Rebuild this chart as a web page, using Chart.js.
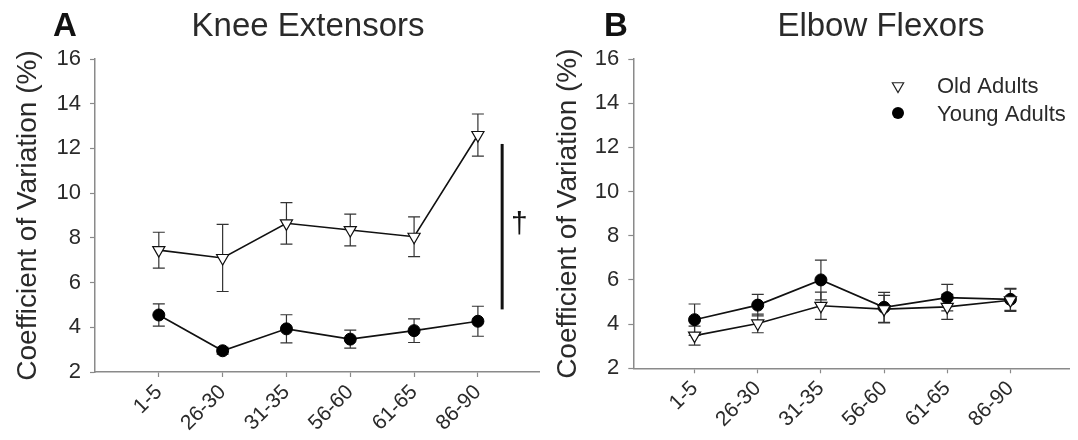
<!DOCTYPE html>
<html>
<head>
<meta charset="utf-8">
<script src="https://cdn.jsdelivr.net/npm/chart.js@4.4.0/dist/chart.umd.min.js"></script>
<style>
  html, body { margin: 0; padding: 0; background: #fff; }
  #wrap { position: relative; width: 1078px; height: 440px; overflow: hidden; }
  .panel { position: absolute; top: 0; height: 440px; }
  #panelA { left: 0; width: 548px; }
  #panelB { left: 548px; width: 530px; }
</style>
</head>
<body>
<div id="wrap">
  <div class="panel" id="panelA"><canvas id="chartA"></canvas></div>
  <div class="panel" id="panelB"><canvas id="chartB"></canvas></div>
</div>
<script>
// ---- data (mean CV % and SE per age group) ----
const ageGroups = ['1-5', '26-30', '31-35', '56-60', '61-65', '86-90'];
const yTickValues = [2, 4, 6, 8, 10, 12, 14, 16];

const kneeOld     = [7.45, 7.10, 8.65, 8.35, 8.05, 12.60];
const kneeOldSE   = [0.80, 1.50, 0.93, 0.71, 0.89, 0.94];
const kneeYoung   = [4.55, 2.95, 3.93, 3.47, 3.85, 4.27];
const kneeYoungSE = [0.50, 0.15, 0.63, 0.40, 0.53, 0.67];

const elbowOld     = [3.48, 4.03, 4.83, 4.68, 4.78, 5.08];
const elbowOldSE   = [0.43, 0.42, 0.62, 0.62, 0.57, 0.50];
const elbowYoung   = [4.20, 4.86, 6.00, 4.76, 5.20, 5.12];
const elbowYoungSE = [0.71, 0.49, 0.90, 0.68, 0.60, 0.50];

// significance bracket in panel A (y range in data units)
const kneeSigRange = [4.8, 12.2];

const FONT = "'Liberation Sans', Arial, Helvetica, sans-serif";
const TEXT = '#2a2a2a';
const AXIS = '#8a8a8a';
Chart.defaults.font.family = FONT;

const toPoints = vals => vals.map((v, i) => ({ x: i, y: v }));

// error bars drawn under the markers
const errorBars = {
  id: 'errorBars',
  beforeDatasetsDraw(chart) {
    const { ctx, scales: { x, y } } = chart;
    ctx.save();
    ctx.strokeStyle = '#333';
    ctx.lineWidth = 1.2;
    chart.data.datasets.forEach(ds => {
      ds.data.forEach((p, i) => {
        const se = ds.err[i];
        const px = x.getPixelForValue(p.x);
        const top = y.getPixelForValue(p.y + se);
        const bot = y.getPixelForValue(p.y - se);
        ctx.beginPath();
        ctx.moveTo(px, top); ctx.lineTo(px, bot);
        ctx.moveTo(px - 6, top); ctx.lineTo(px + 6, top);
        ctx.moveTo(px - 6, bot); ctx.lineTo(px + 6, bot);
        ctx.stroke();
      });
    });
    ctx.restore();
  }
};

function headingPlugin(letter, letterX, title, titleX) {
  return {
    id: 'heading',
    afterDraw(chart) {
      const ctx = chart.ctx;
      ctx.save();
      ctx.fillStyle = '#111';
      ctx.textAlign = 'center';
      ctx.textBaseline = 'alphabetic';
      ctx.font = `bold 33px ${FONT}`;
      ctx.fillText(letter, letterX, 36);
      ctx.fillStyle = TEXT;
      ctx.font = `33px ${FONT}`;
      ctx.fillText(title, titleX, 36);
      ctx.restore();
    }
  };
}

// vertical bar with dagger between the two knee series
const sigBracket = {
  id: 'sigBracket',
  afterDatasetsDraw(chart) {
    const { ctx, scales: { x, y } } = chart;
    const px = x.getPixelForValue(5.38);
    ctx.save();
    ctx.strokeStyle = '#111';
    ctx.lineWidth = 3;
    ctx.beginPath();
    ctx.moveTo(px, y.getPixelForValue(kneeSigRange[1]));
    ctx.lineTo(px, y.getPixelForValue(kneeSigRange[0]));
    ctx.stroke();
    ctx.fillStyle = '#111';
    ctx.font = `30px ${FONT}`;
    ctx.textAlign = 'center';
    ctx.textBaseline = 'middle';
    ctx.fillText('\u2020', x.getPixelForValue(5.65), y.getPixelForValue(8.6));
    ctx.restore();
  }
};

// legend inside panel B
const insideLegend = {
  id: 'insideLegend',
  afterDraw(chart) {
    const ctx = chart.ctx;
    const mx = 350, tx = 389;
    ctx.save();
    // triangle (Old Adults)
    ctx.strokeStyle = '#222';
    ctx.fillStyle = '#fff';
    ctx.lineWidth = 1.2;
    const r = 6.5, cy1 = 86;
    ctx.beginPath();
    ctx.moveTo(mx - r * 0.866, cy1 - r / 2);
    ctx.lineTo(mx + r * 0.866, cy1 - r / 2);
    ctx.lineTo(mx, cy1 + r);
    ctx.closePath();
    ctx.fill(); ctx.stroke();
    // circle (Young Adults)
    ctx.fillStyle = '#000';
    ctx.beginPath();
    ctx.arc(mx, 113, 6, 0, Math.PI * 2);
    ctx.fill();
    ctx.fillStyle = TEXT;
    ctx.font = `22px ${FONT}`;
    ctx.textAlign = 'left';
    ctx.textBaseline = 'alphabetic';
    chart.data.datasets.forEach((ds, i) => ctx.fillText(ds.label, tx, 93 + i * 28));
    ctx.restore();
  }
};

function makeChart(id, cfg) {
  return new Chart(document.getElementById(id), {
    type: 'line',
    data: {
      datasets: [
        {
          label: 'Old Adults', data: toPoints(cfg.old), err: cfg.oldSE,
          borderColor: '#111', borderWidth: 1.6, tension: 0,
          pointStyle: 'triangle', rotation: 180, pointRadius: 7,
          pointBackgroundColor: '#fff', pointBorderColor: '#111', pointBorderWidth: 1.2
        },
        {
          label: 'Young Adults', data: toPoints(cfg.young), err: cfg.youngSE,
          borderColor: '#111', borderWidth: 1.6, tension: 0,
          pointStyle: 'circle', pointRadius: 6,
          pointBackgroundColor: '#000', pointBorderColor: '#000', pointBorderWidth: 1
        }
      ]
    },
    options: {
      responsive: true, maintainAspectRatio: false, animation: false,
      layout: { padding: { top: 59, right: cfg.padRight, bottom: 0, left: 0 } },
      scales: {
        x: {
          type: 'linear', min: cfg.xMin, max: cfg.xMax,
          afterBuildTicks: s => { s.ticks = ageGroups.map((_, i) => ({ value: i })); },
          afterFit: s => { s.height = cfg.xAxisH; },
          ticks: {
            autoSkip: false, minRotation: 45, maxRotation: 45, padding: 3,
            color: TEXT, font: { size: 21 },
            callback: v => ageGroups[v] ?? ''
          },
          grid: { drawOnChartArea: false, tickLength: 5, tickColor: AXIS, tickWidth: 1.2 },
          border: { color: AXIS, width: 1.5 }
        },
        y: {
          min: 2, max: 16,
          afterBuildTicks: s => { s.ticks = yTickValues.map(v => ({ value: v })); },
          afterFit: s => { s.width = cfg.yAxisW; },
          ticks: { color: TEXT, font: { size: 22 }, padding: 9 },
          grid: { drawOnChartArea: false, tickLength: 5, tickColor: AXIS, tickWidth: 1.2 },
          border: { color: AXIS, width: 1.5 },
          title: {
            display: true, text: 'Coefficient of Variation (%)', color: TEXT,
            font: { size: 28 }, padding: { top: cfg.titlePad, bottom: 0 }
          }
        }
      },
      plugins: { legend: { display: false }, tooltip: { enabled: false } }
    },
    plugins: cfg.plugins
  });
}

makeChart('chartA', {
  old: kneeOld, oldSE: kneeOldSE, young: kneeYoung, youngSE: kneeYoungSE,
  xMin: -1.0, xMax: 5.97, padRight: 6, xAxisH: 68, yAxisW: 95, titlePad: 11.5,
  plugins: [errorBars, sigBracket, headingPlugin('A', 65, 'Knee Extensors', 308)]
});

makeChart('chartB', {
  old: elbowOld, oldSE: elbowOldSE, young: elbowYoung, youngSE: elbowYoungSE,
  xMin: -0.97, xMax: 5.94, padRight: 5, xAxisH: 71.7, yAxisW: 85.3, titlePad: 3,
  plugins: [errorBars, insideLegend, headingPlugin('B', 68, 'Elbow Flexors', 333)]
});
</script>
</body>
</html>
